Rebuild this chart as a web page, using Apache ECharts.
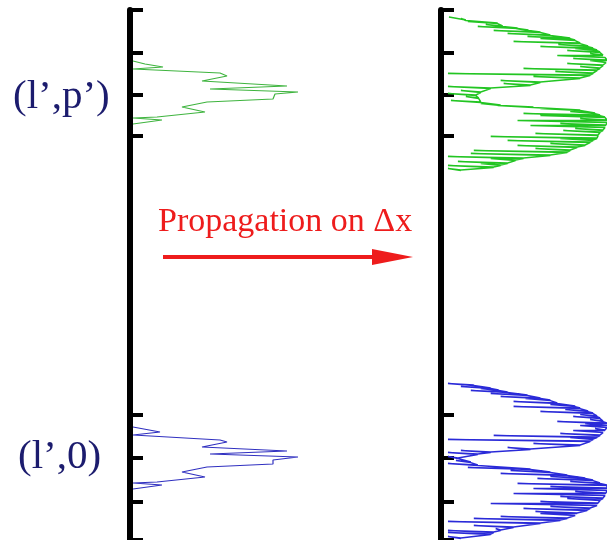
<!DOCTYPE html>
<html>
<head>
<meta charset="utf-8">
<script src="https://cdn.jsdelivr.net/npm/echarts@6/dist/echarts.min.js"></script>
<style>html,body{margin:0;padding:0;background:#fff}#c{width:607px;height:540px}</style>
</head>
<body>
<div id="c"></div>
<script>
// Position along the transverse coordinate (0 = top of axis, 530 = bottom) and intensity
// Tick positions on the transverse axis
const tickPositions = [0, 43, 85, 126, 405, 448, 492, 530];

// Left column (before propagation): [intensity, position]
const beforeTop = [
  [3,51],[15,54],[33,57],[3,59],[90,63],[97,66],[72,71],[157,76],[80,79],[168,82],
  [145,84],[143,89],[77,92],[52,97],[75,102],[27,107],[3,108],[32,110],[3,114]
];
const beforeBottom = [
  [3,417],[30,422],[3,425],[90,430],[97,432],[72,437],[157,441],[80,444],[168,447],
  [143,450],[143,454],[77,457],[52,462],[75,467],[27,472],[3,473],[32,475],[3,479]
];

// Right column (after propagation on Δx): envelope (high) and needle tip (low) at each position
const afterTopPos  = [7,10,13,16,18,20,22,25,28,30,33,36,38,40,42,45,47,50,52,55,58,60,63,65,68,72,75,78,82,85,88,92,95,97,100,103,105,107,110,112,115,117,120,122,125,128,130,132,135,137,140,142,145,148,150,153,155,157,160];
const afterTopLow  = [7,20,27,45,37,75,53,67,87,100,73,118,100,135,127,150,117,133,150,127,140,83,115,7,93,60,63,7,20,7,25,10,40,57,100,130,83,100,140,77,120,90,135,123,95,50,120,67,110,77,95,33,30,7,50,17,40,7,7];
const afterTopHigh = [8,25,57,62,77,88,100,110,130,135,140,148,153,157,160,163,165,167,166,163,160,157,153,150,140,100,90,50,40,35,38,40,60,93,140,155,160,165,167,167,166,165,163,160,158,157,153,150,145,137,130,127,110,83,75,67,60,53,20];

const afterBotPos  = [375,378,380,382,385,388,390,393,396,398,401,403,406,408,411,413,415,417,420,422,425,427,429,431,435,439,442,444,448,452,455,459,462,465,468,470,473,475,478,480,483,485,488,490,493,495,498,500,503,505,508,510,513,517,520,522,524,528];
const afterBotLow  = [7,20,40,30,50,60,85,73,110,73,125,100,140,133,150,117,145,140,155,133,120,53,130,7,93,67,20,7,7,15,7,27,70,60,110,97,130,77,110,93,135,73,120,127,100,50,110,83,95,100,60,33,7,33,55,7,7,7];
const afterBotHigh = [33,50,58,67,87,100,110,117,135,140,148,153,157,160,163,167,167,167,165,163,160,157,153,150,140,90,50,37,17,30,37,90,110,127,145,153,160,167,167,167,166,165,163,160,158,157,150,147,137,135,127,120,100,73,60,53,50,20];

// Text
const labelTop = '(l\u2019,p\u2019)';
const labelBottom = '(l\u2019,0)';
const arrowText = 'Propagation on \u0394x';

// Each position: line follows the envelope, then a thin, slightly sloped needle inward and back
function needles(pos, low, high) {
  const out = [];
  for (let i = 0; i < pos.length; i++) {
    out.push([high[i], pos[i]]);
    out.push([low[i], pos[i] - 1.5]);
    out.push([high[i], pos[i] + 0.6]);
  }
  return out;
}

const chart = echarts.init(document.getElementById('c'), null, {renderer: 'canvas'});

function yAx(gi) {
  return {
    type: 'value', gridIndex: gi, min: 0, max: 530, inverse: true,
    axisLine: {show: true, lineStyle: {color: '#000', width: 6}},
    axisTick: {show: true, inside: true, length: 13, customValues: tickPositions, lineStyle: {color: '#000', width: 4}},
    axisLabel: {show: false},
    splitLine: {show: false}
  };
}
function xAx(gi, max) {
  return {type: 'value', gridIndex: gi, min: 0, max: max, show: false, splitLine: {show: false}};
}

const option = {
  animation: false,
  backgroundColor: '#fff',
  grid: [
    {left: 130, top: 10, width: 180, height: 530},
    {left: 441, top: 10, width: 166, height: 530}
  ],
  xAxis: [xAx(0, 180), xAx(1, 167)],
  yAxis: [yAx(0), yAx(1)],
  series: [
    {type: 'line', xAxisIndex: 0, yAxisIndex: 0, data: beforeTop, showSymbol: false, lineStyle: {color: '#3fb43f', width: 1.2}},
    {type: 'line', xAxisIndex: 0, yAxisIndex: 0, data: beforeBottom, showSymbol: false, lineStyle: {color: '#3030c0', width: 1.2}},
    {type: 'line', xAxisIndex: 1, yAxisIndex: 1, data: needles(afterTopPos, afterTopLow, afterTopHigh), showSymbol: false, lineStyle: {color: '#22c522', width: 1.5}},
    {type: 'line', xAxisIndex: 1, yAxisIndex: 1, data: needles(afterBotPos, afterBotLow, afterBotHigh), showSymbol: false, lineStyle: {color: '#2a2ad8', width: 1.5}}
  ],
  graphic: [
    {type: 'text', left: 13, top: 77, style: {text: labelTop, font: '41px "Liberation Serif", "Times New Roman", serif', fill: '#1c1c6e'}},
    {type: 'text', left: 18, top: 437, style: {text: labelBottom, font: '41px "Liberation Serif", "Times New Roman", serif', fill: '#1c1c6e'}},
    {type: 'text', left: 158, top: 205, style: {text: arrowText, font: '34px "Liberation Serif", "Times New Roman", serif', fill: '#ee1c1c'}},
    {type: 'line', shape: {x1: 163, y1: 257, x2: 378, y2: 257}, style: {stroke: '#ee1c1c', lineWidth: 4}},
    {type: 'polygon', shape: {points: [[372, 249], [413, 257], [372, 265]]}, style: {fill: '#ee1c1c'}}
  ]
};
chart.setOption(option);
</script>
</body>
</html>
